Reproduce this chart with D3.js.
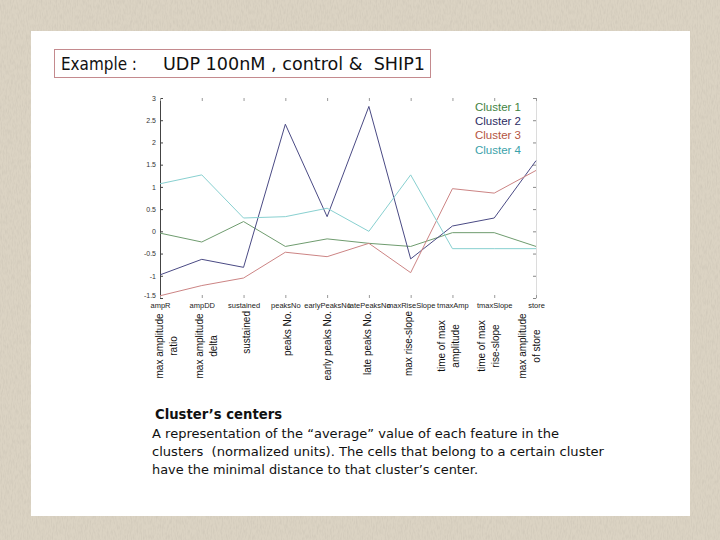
<!DOCTYPE html>
<html>
<head>
<meta charset="utf-8">
<script src="https://cdn.jsdelivr.net/npm/d3@7"></script>
<style>
  html, body { margin: 0; padding: 0; background: #d8d0bf; }
  svg { display: block; }
</style>
</head>
<body>
<script>
// ---------- data ----------
const features = ["ampR", "ampDD", "sustained", "peaksNo", "earlyPeaksNo", "latePeaksNo",
                  "maxRiseSlope", "tmaxAmp", "tmaxSlope", "store"];
const featureLabels = [
  ["max amplitude", "ratio"],
  ["max amplitude", "delta"],
  ["sustained"],
  ["peaks No."],
  ["early peaks No."],
  ["late peaks No."],
  ["max rise-slope"],
  ["time of max", "amplitude"],
  ["time of max", "rise-slope"],
  ["max amplitude", "of store"]
];
const clusterNames = ["Cluster 1", "Cluster 2", "Cluster 3", "Cluster 4"];
const cluster1 = [-0.04, -0.24, 0.22, -0.34, -0.17, -0.27, -0.34, -0.03, -0.03, -0.34];
const cluster2 = [-0.98, -0.63, -0.81, 2.41, 0.33, 2.81, -0.62, 0.12, 0.30, 1.59];
const cluster3 = [-1.45, -1.22, -1.05, -0.47, -0.57, -0.27, -0.93, 0.96, 0.86, 1.37];
const cluster4 = [1.07, 1.27, 0.30, 0.33, 0.52, 0.00, 1.27, -0.39, -0.39, -0.39];
const yTicks = [-1.5, -1, -0.5, 0, 0.5, 1, 1.5, 2, 2.5, 3];
const titleLeft = "Example :";
const titleRight = "UDP 100nM , control &  SHIP1";
const captionTitle = "Cluster\u2019s centers";
const captionLines = [
  "A representation of the \u201caverage\u201d value of each feature in the",
  "clusters  (normalized units). The cells that belong to a certain cluster",
  "have the minimal distance to that cluster\u2019s center."
];

// ---------- styles ----------
const lineColors = ["#6f9c6f", "#4a4a84", "#cc8484", "#88d0d0"];
const legendColors = ["#3f833f", "#2c2c62", "#b4543e", "#3aa2aa"];
const handFont = "'DejaVu Sans', 'Noto Sans', sans-serif";
const plotFont = "'Liberation Sans', Arial, sans-serif";

const W = 720, H = 540;
const svg = d3.select("body").append("svg").attr("width", W).attr("height", H);

// background linen texture
const defs = svg.append("defs");
const f = defs.append("filter").attr("id", "linen")
  .attr("filterUnits", "userSpaceOnUse").attr("x", 0).attr("y", 0).attr("width", W).attr("height", H);
f.append("feTurbulence").attr("type", "fractalNoise").attr("baseFrequency", "0.8 0.2").attr("numOctaves", 2).attr("seed", 3);
f.append("feColorMatrix").attr("type", "matrix")
  .attr("values", "0 0 0 0 0.62  0 0 0 0 0.57  0 0 0 0 0.48  1.6 0 0 0 -0.62");
svg.append("rect").attr("width", W).attr("height", H).attr("fill", "#dbd3c3");
svg.append("rect").attr("width", W).attr("height", H).attr("fill", "#000").attr("filter", "url(#linen)");

// white slide panel
svg.append("rect").attr("x", 31).attr("y", 31).attr("width", 659).attr("height", 485).attr("fill", "#ffffff");

// title box
svg.append("rect").attr("x", 54.5).attr("y", 49.5).attr("width", 376).attr("height", 28)
  .attr("fill", "#ffffff").attr("stroke", "#c48a8e").attr("stroke-width", 1);
svg.append("text").attr("x", 61).attr("y", 70).attr("font-family", handFont).attr("font-size", 17)
  .attr("fill", "#111").attr("textLength", 76).attr("lengthAdjust", "spacingAndGlyphs").text(titleLeft);
svg.append("text").attr("x", 163).attr("y", 70).attr("font-family", handFont).attr("font-size", 17)
  .attr("fill", "#111").attr("textLength", 262).attr("lengthAdjust", "spacingAndGlyphs")
  .style("white-space", "pre").text(titleRight);

// ---------- chart ----------
const x = d3.scalePoint().domain(features).range([160, 536]);
const y = d3.scaleLinear().domain([-1.5, 3]).range([298, 98]);

const g = svg.append("g").attr("font-family", plotFont);

// left axis
const yAxis = g.append("g").attr("transform", "translate(160,0)")
  .call(d3.axisLeft(y).tickValues(yTicks).tickSize(-3).tickPadding(4).tickFormat(d => String(d)));
yAxis.select(".domain").attr("stroke", "#444");
yAxis.selectAll(".tick line").attr("stroke", "#444");
yAxis.selectAll("text").attr("font-size", 7).attr("fill", "#333").attr("font-family", plotFont);
yAxis.selectAll(".tick").filter(d => d === -1.5).select("text").attr("dy", "-0.1em");

// right axis (faint)
const yAxisR = g.append("g").attr("transform", "translate(536,0)")
  .call(d3.axisRight(y).tickValues(yTicks).tickSize(-3).tickFormat(""));
yAxisR.select(".domain").attr("stroke", "#dcdcdc");
yAxisR.selectAll(".tick line").attr("stroke", "#888");

// top ticks
const xTop = g.append("g").attr("transform", "translate(0,98)")
  .call(d3.axisTop(x).tickSize(-3).tickFormat(""));
xTop.select(".domain").remove();
xTop.selectAll(".tick line").attr("stroke", "#999");

// bottom axis with feature names
const xBot = g.append("g").attr("transform", "translate(0,298)")
  .call(d3.axisBottom(x).tickSize(-3).tickPadding(5));
xBot.select(".domain").remove();
xBot.selectAll(".tick line").attr("stroke", "#999");
xBot.selectAll("text").attr("font-size", 7.5).attr("fill", "#222").attr("font-family", plotFont);

// lines
const series = [cluster1, cluster2, cluster3, cluster4];
const line = d3.line().x((d, i) => x(features[i])).y(d => y(d));
g.selectAll("path.series").data(series).enter().append("path")
  .attr("class", "series")
  .attr("d", line)
  .attr("fill", "none")
  .attr("stroke", (d, i) => lineColors[i])
  .attr("stroke-width", 1);

// legend
g.selectAll("text.legend").data(clusterNames).enter().append("text")
  .attr("class", "legend")
  .attr("x", 475)
  .attr("y", (d, i) => 111 + i * 14.2)
  .attr("font-size", 11.5)
  .attr("fill", (d, i) => legendColors[i])
  .text(d => d);

// rotated long feature labels
const lx = d3.scalePoint().domain(features).range([166, 529]);
featureLabels.forEach((lines, i) => {
  const cx = lx(features[i]);
  const n = lines.length;
  lines.forEach((t, j) => {
    const px = cx + (j - (n - 1) / 2) * 14;
    const single = n === 1;
    const py = single ? 311 : 346;
    g.append("text")
      .attr("transform", `translate(${px},${py}) rotate(-90)`)
      .attr("text-anchor", single ? "end" : "middle")
      .attr("dominant-baseline", "central")
      .attr("font-size", 10)
      .attr("fill", "#111")
      .text(t);
  });
});

// caption
svg.append("text").attr("x", 155).attr("y", 419).attr("font-family", handFont).attr("font-size", 14)
  .attr("font-weight", "bold").attr("fill", "#111")
  .attr("textLength", 127).attr("lengthAdjust", "spacingAndGlyphs").text(captionTitle);
const capWidths = [407, 452, 326];
captionLines.forEach((t, i) => {
  svg.append("text").attr("x", 152).attr("y", 438 + i * 18)
    .attr("font-family", handFont).attr("font-size", 13).attr("fill", "#111")
    .attr("textLength", capWidths[i]).attr("lengthAdjust", "spacingAndGlyphs")
    .style("white-space", "pre").text(t);
});
</script>
</body>
</html>
